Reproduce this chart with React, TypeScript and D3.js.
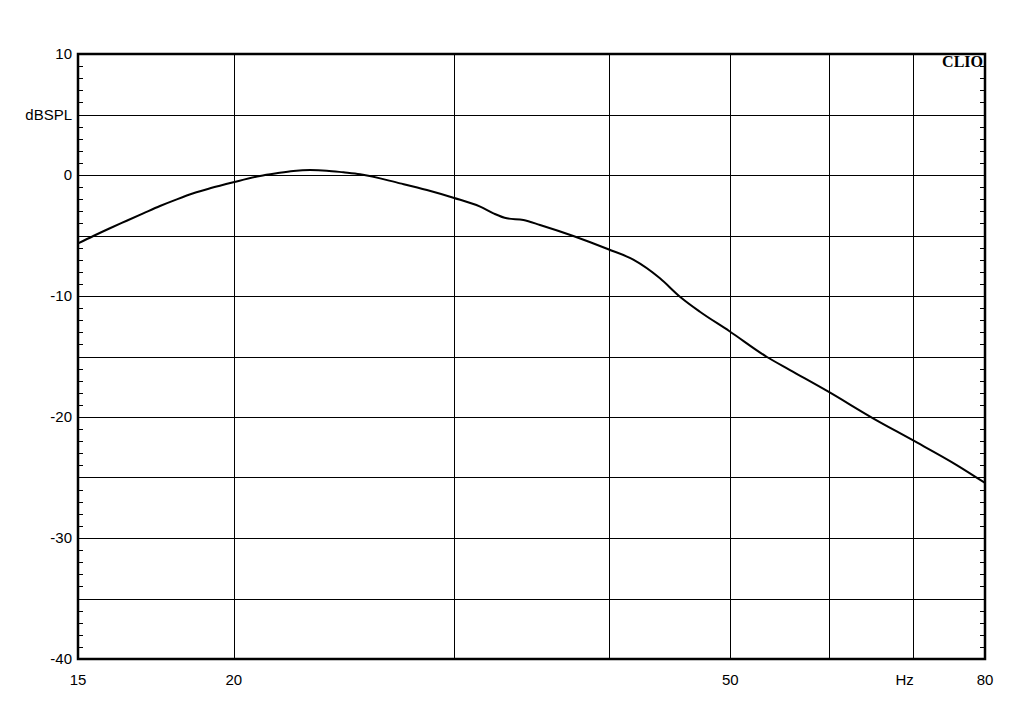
import React from "react";
import * as d3 from "d3";

const freqs = [15, 15.43, 15.91, 16.41, 16.92, 17.45, 18.0, 18.56, 19.14, 19.98, 20.99, 21.64, 22.32, 23.02, 23.74, 24.48, 25.25, 27.18, 28.56, 29.99, 31.51, 32.29, 33.1, 34.13, 35.19, 37.42, 39.92, 41.8, 43.91, 45.56, 47.27, 49.89, 53.46, 55.82, 59.92, 65.07, 69.96, 75.93, 80];
const dbValues = [-5.66, -5.04, -4.4, -3.78, -3.17, -2.56, -2.01, -1.51, -1.1, -0.6, -0.08, 0.14, 0.33, 0.41, 0.36, 0.22, 0.06, -0.69, -1.24, -1.88, -2.62, -3.17, -3.58, -3.72, -4.13, -5.04, -6.14, -7.0, -8.54, -10.06, -11.3, -12.89, -15.02, -16.12, -17.91, -20.11, -21.9, -23.97, -25.45];

const xGrid = [20, 30, 40, 50, 60, 70];
const xLabels: [number, string][] = [[15, "15"], [20, "20"], [50, "50"], [80, "80"]];
const yGrid = [5, 0, -5, -10, -15, -20, -25, -30, -35];
const yLabels: [number, string][] = [[10, "10"], [5, "dBSPL"], [0, "0"], [-10, "-10"], [-20, "-20"], [-30, "-30"], [-40, "-40"]];
const minorTicks = d3.range(-39, 10, 1);

export default function App() {
  const W = 1024, H = 712;
  const L = 78, R = 985, T = 54, B = 659;
  const x = d3.scaleLog().domain([15, 80]).range([L, R]);
  const y = d3.scaleLinear().domain([-40, 10]).range([B, T]);
  const pts = freqs.map((f, i) => [f, dbValues[i]] as [number, number]);
  const line = d3.line<[number, number]>().x(d => x(d[0])).y(d => y(d[1])).curve(d3.curveMonotoneX);
  const font = "'Liberation Sans', Arial, sans-serif";
  return (
    <div style={{ position: "absolute", left: 0, top: 0 }}>
      <svg width={W} height={H} style={{ display: "block", background: "#fff" }}>
        <rect x={0} y={0} width={W} height={H} fill="#fff" />
        {yGrid.map(v => (
          <line key={"yg" + v} x1={L} x2={R} y1={Math.round(y(v)) + 0.5} y2={Math.round(y(v)) + 0.5} stroke="#000" strokeWidth={1} />
        ))}
        {xGrid.map(v => (
          <line key={"xg" + v} x1={Math.round(x(v)) + 0.5} x2={Math.round(x(v)) + 0.5} y1={T} y2={B} stroke="#000" strokeWidth={1} />
        ))}
        {minorTicks.map(v => (
          <g key={"mt" + v}>
            <line x1={L} x2={L + 5} y1={Math.round(y(v)) + 0.5} y2={Math.round(y(v)) + 0.5} stroke="#000" strokeWidth={1} />
            <line x1={R - 5} x2={R} y1={Math.round(y(v)) + 0.5} y2={Math.round(y(v)) + 0.5} stroke="#000" strokeWidth={1} />
          </g>
        ))}
        <rect x={L} y={T} width={R - L} height={B - T} fill="none" stroke="#000" strokeWidth={2.5} />
        <path d={line(pts) || ""} fill="none" stroke="#000" strokeWidth={2} />
        {yLabels.map(([v, t]) => (
          <text key={"yl" + v} x={72} y={y(v)} dy="0.36em" textAnchor="end" fontFamily={font} fontSize={15} fill="#000">{t}</text>
        ))}
        {xLabels.map(([v, t]) => (
          <text key={"xl" + v} x={x(v)} y={685} textAnchor="middle" fontFamily={font} fontSize={15} fill="#000">{t}</text>
        ))}
        <text x={x(70) - 8} y={685} textAnchor="middle" fontFamily={font} fontSize={15} fill="#000">Hz</text>
        <text x={983} y={67} textAnchor="end" fontFamily="'Liberation Serif', 'Times New Roman', serif" fontWeight="bold" fontSize={16} fill="#000">CLIO</text>
      </svg>
    </div>
  );
}
